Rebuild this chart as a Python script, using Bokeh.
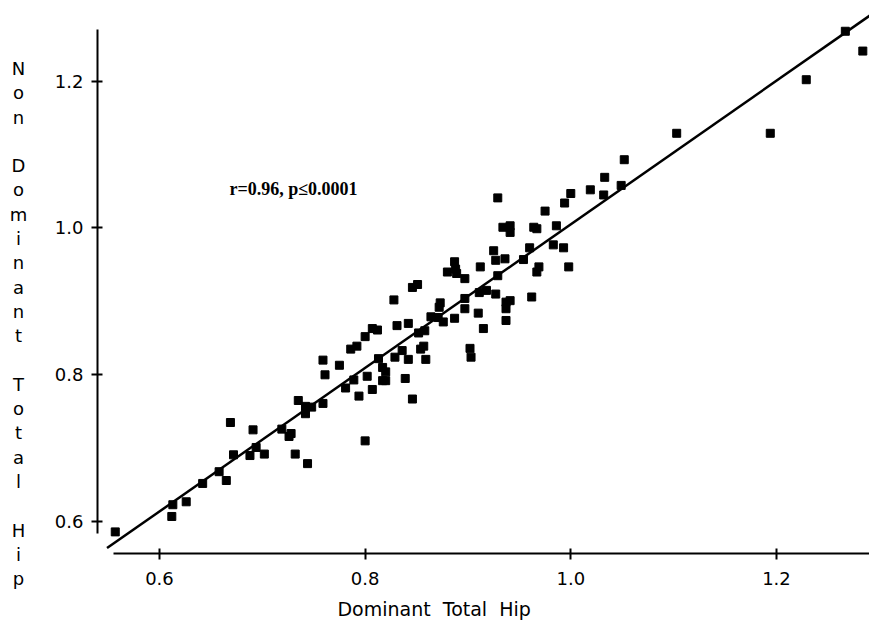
from bokeh.plotting import figure
from bokeh.models import ColumnDataSource, Range1d, FixedTicker, Label
from bokeh.core.properties import value
from bokeh.embed import file_html
from bokeh.resources import INLINE

# ---- data ----
dominant = [0.557, 0.613, 0.612, 0.626, 0.642, 0.658, 0.665, 0.669, 0.672, 0.688,
            0.691, 0.694, 0.702, 0.719, 0.726, 0.728, 0.732, 0.744, 0.735, 0.742,
            0.748, 0.742, 0.759, 0.759, 0.761, 0.775, 0.781, 0.789, 0.794, 0.800,
            0.786, 0.792, 0.800, 0.807, 0.812, 0.802, 0.807, 0.813, 0.817, 0.820,
            0.817, 0.820, 0.828, 0.829, 0.831, 0.836, 0.839, 0.842, 0.842, 0.846,
            0.846, 0.851, 0.852, 0.858, 0.854, 0.857, 0.859, 0.864, 0.871, 0.873,
            0.872, 0.876, 0.887, 0.880, 0.887, 0.888, 0.889, 0.897, 0.897, 0.897,
            0.902, 0.903, 0.910, 0.912, 0.915, 0.911, 0.918, 0.927, 0.929, 0.927,
            0.925, 0.929, 0.934, 0.941, 0.941, 0.936, 0.960, 0.964, 0.967, 0.975,
            0.986, 0.983, 0.993, 0.994, 1.000, 0.998, 1.019, 1.033, 1.032, 1.049,
            1.052, 0.954, 0.969, 0.967, 0.962, 0.937, 0.941, 0.937, 0.937, 1.103,
            1.194, 1.229, 1.267, 1.284]
non_dominant = [0.586, 0.623, 0.607, 0.627, 0.652, 0.668, 0.656, 0.735, 0.691, 0.690,
                0.725, 0.701, 0.692, 0.726, 0.716, 0.720, 0.692, 0.679, 0.765, 0.757,
                0.756, 0.747, 0.761, 0.820, 0.800, 0.813, 0.782, 0.793, 0.771, 0.710,
                0.835, 0.839, 0.852, 0.863, 0.861, 0.798, 0.780, 0.822, 0.810, 0.804,
                0.792, 0.792, 0.902, 0.824, 0.867, 0.833, 0.795, 0.870, 0.821, 0.767,
                0.919, 0.923, 0.857, 0.860, 0.835, 0.839, 0.821, 0.879, 0.878, 0.898,
                0.892, 0.872, 0.877, 0.940, 0.954, 0.944, 0.938, 0.931, 0.904, 0.890,
                0.836, 0.824, 0.884, 0.947, 0.863, 0.912, 0.915, 0.910, 0.935, 0.956,
                0.969, 1.041, 1.001, 1.003, 0.994, 0.958, 0.973, 1.001, 0.999, 1.023,
                1.003, 0.977, 0.973, 1.034, 1.047, 0.947, 1.052, 1.069, 1.045, 1.058,
                1.093, 0.957, 0.947, 0.940, 0.906, 0.899, 0.901, 0.890, 0.874, 1.129,
                1.129, 1.202, 1.268, 1.241]

fit_slope = 0.978
fit_intercept = 0.027
fit_x = [0.549, 1.30]
fit_y = [fit_slope * v + fit_intercept for v in fit_x]

tick_values = [0.6, 0.8, 1.0, 1.2]
tick_labels = ["0.6", "0.8", "1.0", "1.2"]

x_title = "Dominant\u00a0 Total\u00a0 Hip"
y_title = "Non Dominant Total Hip"
stat_text = "r=0.96, p\u22640.0001"

FONT = "DejaVu Sans"

# the frame fills the whole canvas; the axes are pinned at fixed data locations
p = figure(width=869, height=623, output_backend="svg", toolbar_location=None,
           x_range=Range1d(0.4454, 1.2905), y_range=Range1d(0.4612, 1.3099),
           min_border=0, min_border_left=0, min_border_right=0,
           min_border_top=0, min_border_bottom=0)
p.background_fill_color = "white"
p.border_fill_color = "white"
p.outline_line_color = None
p.grid.visible = False

for ax in (p.xaxis, p.yaxis):
    ax.ticker = FixedTicker(ticks=tick_values)
    ax.major_label_overrides = dict(zip(tick_values, tick_labels))
    ax.axis_line_width = 2
    ax.axis_line_color = "black"
    ax.major_tick_line_width = 2
    ax.major_tick_line_color = "black"
    ax.major_tick_in = 5
    ax.major_tick_out = 6
    ax.minor_tick_line_color = None
    ax.major_label_text_font = FONT
    ax.major_label_text_font_size = "18px"
    ax.major_label_text_color = "black"

p.xaxis.fixed_location = 0.5565
p.yaxis.fixed_location = 0.5397
p.xaxis.bounds = (0.5553, 1.2905)
p.yaxis.bounds = (0.5838, 1.2704)
p.xaxis.major_label_standoff = 12
p.yaxis.major_label_standoff = 8

src = ColumnDataSource(data=dict(x=dominant, y=non_dominant))
p.line(fit_x, fit_y, line_color="black", line_width=2.5)
p.scatter("x", "y", source=src, marker="square", size=8,
          fill_color="black", line_color="black")

p.add_layout(Label(x=0.668, y=1.0525, text=stat_text, text_font="Liberation Serif",
                   text_font_style="bold", text_font_size="18px",
                   text_align="left", text_baseline="alphabetic", text_color="black"))

p.add_layout(Label(x=0.7731, y=0.4816, text=x_title, text_font=FONT,
                   text_font_size="19px", text_align="left",
                   text_baseline="middle", text_color="black"))

# stacked, one-letter-per-line y title
first_letter_y = 1.2173
letter_step = 0.0331
title_x = 0.4629
lx, ly, lt = [], [], []
for i, ch in enumerate(y_title):
    if ch.strip():
        lx.append(title_x)
        ly.append(first_letter_y - letter_step * i)
        lt.append(ch)
p.text(x=lx, y=ly, text=lt, text_align="center", text_baseline="middle",
       text_font=value(FONT), text_font_size="18px", text_color="black")

open("out.html", "w").write(file_html(p, INLINE))
